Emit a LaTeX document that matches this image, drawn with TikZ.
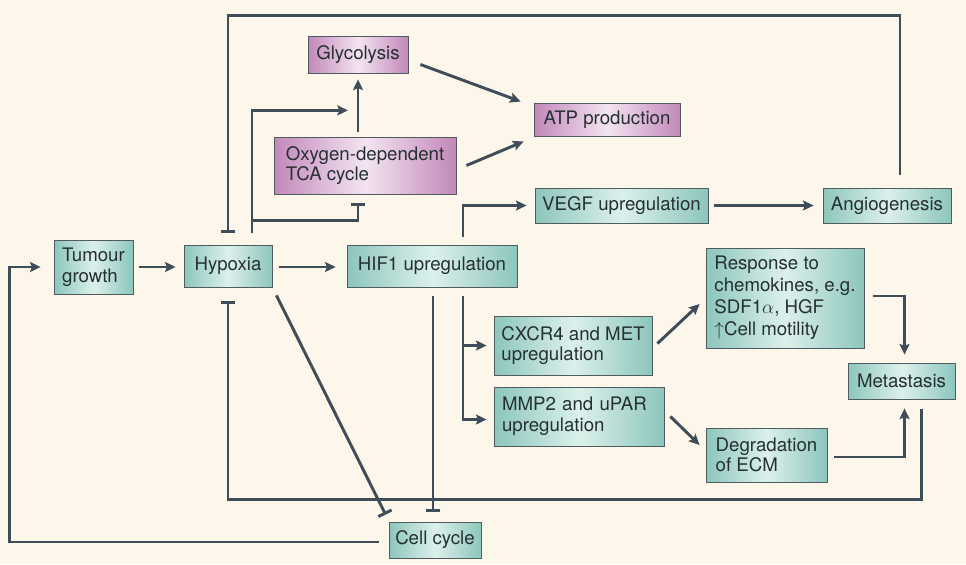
\documentclass[tikz,border=0pt]{standalone}
\usepackage{fontspec}
\setmainfont{TeX Gyre Heros}
\usetikzlibrary{arrows.meta,calc}
\definecolor{bg}{RGB}{253,246,235}
\definecolor{tealD}{RGB}{140,198,188}
\definecolor{tealL}{RGB}{220,240,235}
\definecolor{purD}{RGB}{194,136,186}
\definecolor{purL}{RGB}{243,228,241}
\definecolor{bline}{RGB}{80,92,95}
\definecolor{conn}{RGB}{62,77,87}
\definecolor{txt}{RGB}{38,48,50}
\begin{document}
\begin{tikzpicture}[x=0.75pt,y=-0.75pt,
  box/.style={draw=bline, line width=0.6pt, text=txt, inner sep=0pt, align=left,
    font=\fontsize{14}{15.5}\selectfont},
  tb/.style={box, left color=tealD, right color=tealD, middle color=tealL},
  pb/.style={box, left color=purD, right color=purD, middle color=purL},
  sz/.style 2 args={minimum width=#1, minimum height=#2},
  con/.style={draw=conn, line width=2.2pt},
  act/.style={con, -{Stealth[length=8pt,width=7.5pt,inset=1.5pt]}},
  inh/.style={con, -{Bar[width=11pt]}}]
\fill[bg] (0,0) rectangle (966,564);
\useasboundingbox (0,0) rectangle (966,564);
% nodes
\node[tb, sz={59.25pt}{40.5pt}] (tumour) at (93.5,267) {Tumour\\growth};
\node[tb, sz={66pt}{31.5pt}] (hypoxia) at (228,266) {Hypoxia};
\node[tb, sz={127.5pt}{31.5pt}] (hif) at (432,266) {HIF1 upregulation};
\node[pb, sz={75pt}{27.75pt}] (glyc) at (358,54.5) {Glycolysis};
\node[pb, sz={136.5pt}{42.75pt}] (tca) at (365,165.5) {Oxygen-dependent\\TCA cycle};
\node[pb, sz={109.5pt}{24.75pt}] (atp) at (607,119.5) {ATP production};
\node[tb, sz={129.75pt}{26.25pt}] (vegf) at (621.5,205.5) {VEGF upregulation};
\node[tb, sz={96pt}{26.25pt}] (angio) at (887,205.5) {Angiogenesis};
\node[tb, sz={118.5pt}{75pt}, font=\fontsize{14}{16.5}\selectfont] (resp) at (785,298) {Response to\\chemokines, e.g.\\SDF1$\alpha$, HGF\\$\uparrow$Cell motility};
\node[tb, sz={118.5pt}{44.25pt}] (cxcr) at (573,345.5) {CXCR4 and MET\\upregulation};
\node[tb, sz={127.5pt}{44.25pt}, inner xsep=6pt, text width=115.5pt] (mmp) at (579,416.5) {MMP2 and uPAR\\upregulation};
\node[tb, sz={90.75pt}{40.5pt}] (degr) at (766.5,455) {Degradation\\of ECM};
\node[tb, sz={80.25pt}{27pt}] (meta) at (901.5,381) {Metastasis};
\node[tb, sz={69pt}{27pt}] (cell) at (435,540) {Cell cycle};
% connectors
\draw[inh] ($(angio.north)+(13,-13)$) -- ++(0,-159) -| ($(hypoxia.north)+(0,-12)$);
\draw[act] ($(hypoxia.north)+(24,-12)$) |- ($(glyc.south)+(-10,37)$);
\draw[inh] ($(hypoxia.north)+(24,-24)$) -| ($(tca.south)+(-7,9)$);
\draw[act] ($(tca.north)+(-7,-5)$) -- ($(glyc.south)+(0,6)$);
\draw[act] ($(glyc.east)+(12,10)$) -- ($(atp.west)+(-13,-18)$);
\draw[act] ($(tca.east)+(10,0)$) -- ($(atp.west)+(-10,22)$);
\draw[act] ($(tumour.east)+(6,0)$) -- ($(hypoxia.west)+(-8,1)$);
\draw[act] ($(hypoxia.east)+(7,1)$) -- ($(hif.west)+(-11,1)$);
\draw[act] ($(hif.north)+(31,-8)$) |- ($(vegf.west)+(-8,0)$);
\draw[act] ($(vegf.east)+(6,0)$) -- ($(angio.west)+(-9,0)$);
\draw[act] ($(hif.south)+(31,9)$) |- ($(cxcr.west)+(-7,0)$);
\draw[act] ($(hif.south)+(31,9)$) |- ($(mmp.west)+(-7,3)$);
\draw[inh] ($(hif.south)+(1,9)$) -- ($(cell.north)+(-2,-10)$);
\draw[inh] ($(hypoxia.south east)+(4,8)$) -- ($(cell.north west)+(-3,-7)$);
\draw[inh] ($(meta.south)+(20,10)$) -- ++(0,90) -| ($(hypoxia.south)+(0,14)$);
\draw[act] ($(cell.west)+(-10,2)$) -| ($(tumour.west)+(-44,0)$) -- ($(tumour.west)+(-13,0)$);
\draw[act] ($(cxcr.east)+(5,-2)$) -- ($(resp.west)+(-6,6)$);
\draw[act] ($(mmp.east)+(6,0)$) -- ($(degr.west)+(-6,-10)$);
\draw[act] ($(resp.east)+(9,-2)$) -| ($(meta.north)+(3,-8)$);
\draw[act] ($(degr.east)+(7,2)$) -| ($(meta.south)+(3,9)$);
\end{tikzpicture}
\end{document}
